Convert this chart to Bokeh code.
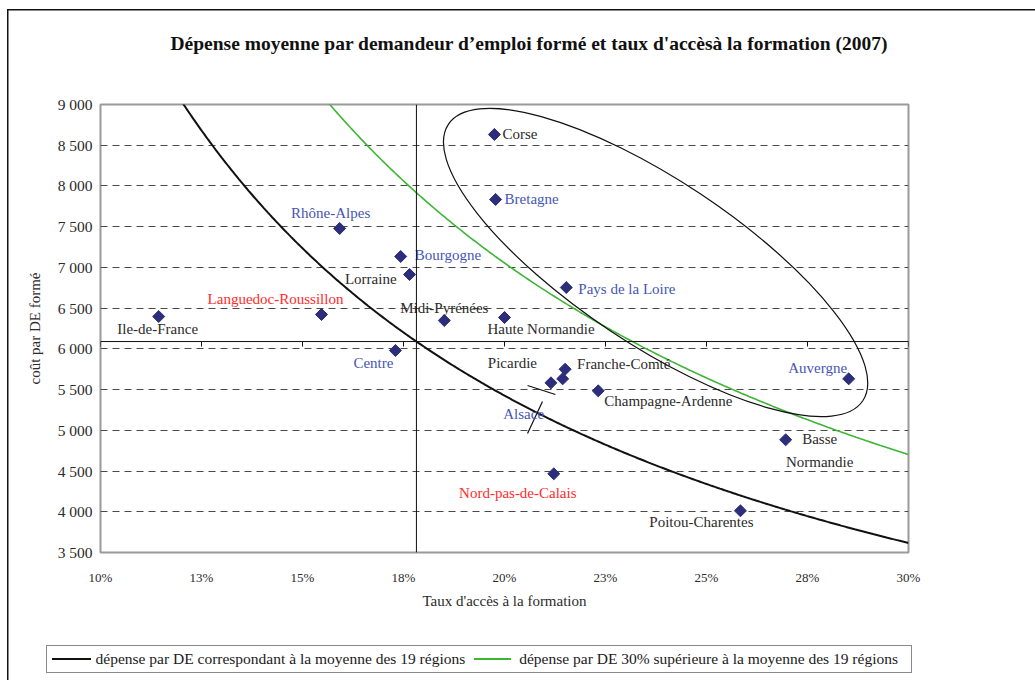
import numpy as np
from math import radians
from bokeh.plotting import figure
from bokeh.layouts import column
from bokeh.models import (FixedTicker, Span, ColumnDataSource, Title, Div)
from bokeh.core.properties import value
from bokeh.embed import file_html
from bokeh.resources import INLINE

# ---------------- data ----------------
regions = ["Ile-de-France", "Languedoc-Roussillon", "Rhône-Alpes", "Bourgogne",
           "Lorraine", "Centre", "Midi-Pyrénées", "Haute Normandie", "Corse",
           "Bretagne", "Pays de la Loire", "Picardie", "Alsace", "Franche-Comté",
           "Champagne-Ardenne", "Nord-pas-de-Calais", "Poitou-Charentes",
           "Auvergne", "Basse Normandie"]
access_rate = [11.44, 15.47, 15.92, 17.43, 17.65, 17.30, 18.51, 20.00, 19.75,
               19.78, 21.53, 21.15, 21.44, 21.50, 22.32, 21.22, 25.84, 28.52, 26.96]
cost_per_de = [6397, 6422, 7478, 7134, 6913, 5980, 6348, 6385, 8632,
               7834, 6753, 5583, 5632, 5750, 5485, 4466, 4012, 5632, 4884]
label_group = ["black", "red", "blue", "blue", "black", "blue", "black", "black",
               "black", "blue", "blue", "black", "blue", "black", "black", "red",
               "black", "blue", "black"]

avg_rate = 17.82      # taux d'accès moyen (%)
avg_cost = 6090       # coût moyen par DE formé
premium = 1.30        # +30 %

x_ticks = [10, 12.5, 15, 17.5, 20, 22.5, 25, 27.5, 30]
x_tick_labels = ["10%", "13%", "15%", "18%", "20%", "23%", "25%", "28%", "30%"]
y_ticks = [3500, 4000, 4500, 5000, 5500, 6000, 6500, 7000, 7500, 8000, 8500, 9000]
y_tick_labels = ["3 500", "4 000", "4 500", "5 000", "5 500", "6 000", "6 500",
                 "7 000", "7 500", "8 000", "8 500", "9 000"]

# hand-drawn annotations (data coordinates)
ellipse_center = (23.74, 7060)
ellipse_size = (12.33, 2013)
ellipse_tilt_deg = -33.7
leader_x0 = [20.57, 20.57]
leader_y0 = [5550, 4961]
leader_x1 = [21.26, 20.94]
leader_y1 = [5440, 5354]

title_text = "Dépense moyenne par demandeur d’emploi formé et taux d'accèsà la formation (2007)"
legend_labels = ["dépense par DE correspondant à la moyenne des 19 régions",
                 "dépense par DE 30% supérieure à la moyenne des 19 régions"]

# ---------------- styles ----------------
FONT = "Liberation Serif"
BLACK_LINE = "#111111"
GREEN_LINE = "#3db535"
colors = {"black": "#2b2b2b", "blue": "#4656b4", "red": "#ff2b2b"}
# label placement: (align, dx px, dy px)
label_pos = {
    "Ile-de-France": ("center", -1, 12),
    "Languedoc-Roussillon": ("center", -46, -15),
    "Rhône-Alpes": ("center", -9, -15),
    "Bourgogne": ("left", 14, -1),
    "Lorraine": ("right", -13, 5),
    "Centre": ("right", -2, 13),
    "Midi-Pyrénées": ("center", 0, -13),
    "Haute Normandie": ("left", -17, 11),
    "Corse": ("left", 8, 0),
    "Bretagne": ("left", 9, 0),
    "Pays de la Loire": ("left", 12, 1),
    "Picardie": ("right", -14, -20),
    "Alsace": ("center", -39, 35),
    "Franche-Comté": ("left", 12, -5),
    "Champagne-Ardenne": ("left", 6, 10),
    "Nord-pas-de-Calais": ("center", -36, 19),
    "Poitou-Charentes": ("center", -39, 11),
    "Auvergne": ("center", -31, -11),
    "Basse Normandie": ("center", 34, 11),
}
frame_bg_main = ("linear-gradient(#111,#111) 7px 9px / 1.5px 100% no-repeat, "
                 "linear-gradient(#111,#111) 7px 9px / 100% 1.5px no-repeat, white")
frame_bg_legend = "linear-gradient(#111,#111) 7px 0px / 1.5px 100% no-repeat, white"

# ---------------- main chart ----------------
p = figure(frame_width=808, frame_height=448,
           min_border_left=100, min_border_right=127,
           min_border_top=104, min_border_bottom=88,
           x_range=(10, 30), y_range=(3500, 9000),
           output_backend="svg", toolbar_location=None, tools="")

p.background_fill_color = "white"
p.border_fill_color = None
p.outline_line_color = "#9a9a9a"
p.outline_line_width = 2
p.styles = {"background": frame_bg_main}

# title (with a blank spacer panel between title and frame)
p.title.text = title_text
p.title.text_font = FONT
p.title.text_font_size = "19.5px"
p.title.text_font_style = "bold"
p.title.text_color = "#111111"
p.title.align = "left"
p.title.offset = 70
p.title.standoff = 30
p.add_layout(Title(text=" ", text_font_size="10px", standoff=23), "above")

# axes
for ax in (p.xaxis[0], p.yaxis[0]):
    ax.axis_line_color = None
    ax.major_tick_line_color = None
    ax.minor_tick_line_color = None
    ax.major_label_text_font = FONT
    ax.major_label_text_color = "#2b2b2b"
    ax.axis_label_text_font = FONT
    ax.axis_label_text_font_size = "15px"
    ax.axis_label_text_font_style = "normal"
    ax.axis_label_text_color = "#2b2b2b"

p.xaxis.ticker = FixedTicker(ticks=x_ticks)
p.xaxis.major_label_overrides = dict(zip(x_ticks, x_tick_labels))
p.xaxis.major_label_text_font_size = "13px"
p.xaxis.major_label_standoff = 11
p.xaxis.axis_label = "Taux d'accès à la formation"
p.xaxis.axis_label_standoff = 5

p.yaxis.ticker = FixedTicker(ticks=y_ticks)
p.yaxis.major_label_overrides = dict(zip(y_ticks, y_tick_labels))
p.yaxis.major_label_text_font_size = "15.5px"
p.yaxis.major_label_standoff = 2
p.yaxis.axis_label = "coût par DE formé"
p.yaxis.axis_label_standoff = 12

p.xgrid.visible = False
p.ygrid.ticker = FixedTicker(ticks=y_ticks[1:-1])
p.ygrid.grid_line_color = "#4a4a4a"
p.ygrid.grid_line_dash = "7 5"
p.ygrid.grid_line_width = 1

# crosshair (axes crossing at the means)
p.add_layout(Span(location=avg_rate, dimension="height", line_color=BLACK_LINE, line_width=1))
p.add_layout(Span(location=avg_cost, dimension="width", line_color=BLACK_LINE, line_width=1))
tick_len = 5 * (9000 - 3500) / 448
p.segment(x0=x_ticks, y0=[avg_cost] * len(x_ticks), x1=x_ticks,
          y1=[avg_cost - tick_len] * len(x_ticks), line_color=BLACK_LINE, line_width=1)

# iso-expense curves
xs = np.linspace(11.0, 30.0, 400)
k_mean = avg_rate * avg_cost
p.line(xs, k_mean / xs, line_color=BLACK_LINE, line_width=2)
p.line(xs, premium * k_mean / xs, line_color=GREEN_LINE, line_width=1.6)

# ellipse and leader lines
p.ellipse(x=[ellipse_center[0]], y=[ellipse_center[1]], width=[ellipse_size[0]],
          height=[ellipse_size[1]], angle=radians(ellipse_tilt_deg),
          fill_color=None, line_color=BLACK_LINE, line_width=1.2)
p.segment(x0=leader_x0, y0=leader_y0, x1=leader_x1, y1=leader_y1,
          line_color=BLACK_LINE, line_width=1.2)

# points
src = ColumnDataSource(dict(
    x=access_rate, y=cost_per_de,
    name=[r.replace("Basse Normandie", "Basse\nNormandie") for r in regions],
    color=[colors[g] for g in label_group],
    align=[label_pos[r][0] for r in regions],
    dx=[label_pos[r][1] for r in regions],
    dy=[label_pos[r][2] for r in regions],
))
p.scatter("x", "y", source=src, marker="square", angle=radians(45), size=8.5,
          fill_color="#2c2e7a", line_color="#2c2e7a")
p.text("x", "y", text="name", source=src, text_color="color", text_align="align",
       text_baseline="middle", x_offset="dx", y_offset="dy",
       text_font=value(FONT), text_font_size="15px", text_line_height=1.45)

# ---------------- legend strip (HTML below the chart) ----------------
swatch = ("display:inline-block;flex:none;height:0;border-top:{w}px solid {c};"
          "width:{l}px;margin:0 {mr}px 0 {ml}px;")
legend_html = (
    "<div style=\"box-sizing:border-box;margin:5px 0 0 46px;width:866px;height:28px;"
    "border:1.5px solid #8a8a8a;background:white;display:flex;align-items:center;"
    f"font-family:'{FONT}';font-size:15.5px;color:#1a1a1a;white-space:nowrap;line-height:1;\">"
    f"<span style=\"{swatch.format(w=2.5, c=BLACK_LINE, l=39, ml=4.5, mr=5)}\"></span>"
    f"<span>{legend_labels[0]}</span>"
    f"<span style=\"{swatch.format(w=2, c=GREEN_LINE, l=37, ml=9, mr=8)}\"></span>"
    f"<span>{legend_labels[1]}</span>"
    "</div>"
)
legend_div = Div(text=legend_html, width=1035, height=40, margin=0,
                 styles={"background": frame_bg_legend})

layout = column(p, legend_div, spacing=0)
open("out.html", "w").write(file_html(layout, INLINE))
